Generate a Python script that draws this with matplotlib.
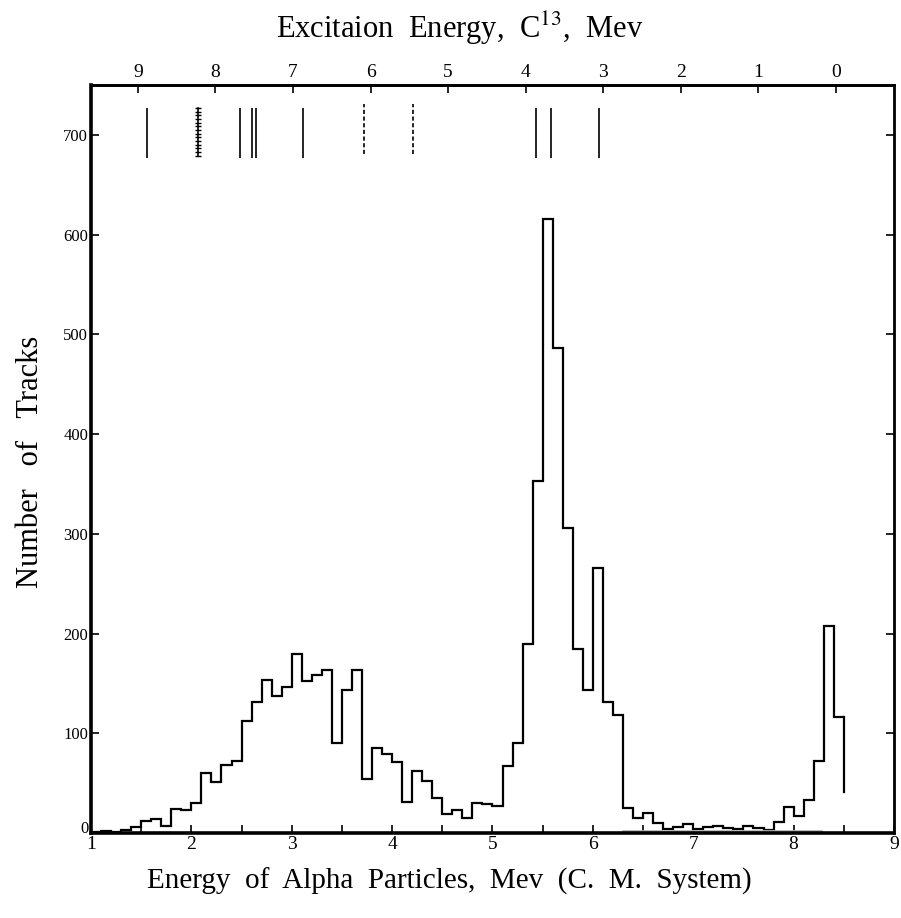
import numpy as np
import matplotlib
matplotlib.use("Agg")
import matplotlib.pyplot as plt

plt.rcParams['font.family'] = ['Liberation Serif', 'DejaVu Serif']
plt.rcParams['mathtext.fontset'] = 'stix'

# histogram, 0.1 Mev bins starting at 1.0 Mev (C.M. alpha energy)
bin_start = 1.0
bin_width = 0.1
counts = [1, 2, 1, 3, 6, 12, 14, 7, 24, 23,
          30, 60, 51, 68, 72, 112, 131, 153, 137, 146,
          179, 152, 158, 163, 90, 143, 163, 54, 85, 79,
          71, 31, 62, 52, 35, 19, 23, 15, 30, 29,
          27, 67, 90, 190, 353, 616, 486, 306, 184, 143,
          266, 131, 118, 25, 15, 20, 10, 4, 6, 9,
          4, 6, 7, 5, 4, 7, 5, 3, 11, 26,
          17, 33, 72, 208, 116]
end_drop = 41          # last vertical stroke stops here
background = (6.3, 8.27, 2)   # faint grey line near the baseline

# C13 levels (excitation energy, Mev) marked at the top
levels_solid = [8.88, 7.68, 7.53, 7.48, 6.87, 3.86, 3.67, 3.05]
levels_broad = [8.22]
levels_dashed = [6.09, 5.45]
level_span = (677, 727)

# alpha energy <-> excitation energy
E0 = 8.42
k = 0.7725
def to_ex(ea):
    return (E0 - ea) / k
def to_alpha(ex):
    return E0 - k * ex

counts = np.array(counts)
edges = bin_start + bin_width * np.arange(len(counts) + 1)

fig = plt.figure(figsize=(9.01, 9.18), dpi=100)
ax = fig.add_axes([91/901, 1 - 833/918, (894-91)/901, (833-85)/918])

ax.stairs(counts, edges, baseline=None, color='black', lw=1.6)
ax.plot([edges[-1], edges[-1]], [counts[-1], end_drop], color='black', lw=1.6)
ax.plot(background[:2], [background[2]] * 2, color='#b5b5b5', lw=2)

ax.vlines(to_alpha(np.array(levels_solid)), *level_span, color='black', lw=1.2)
ax.vlines(to_alpha(np.array(levels_dashed)), level_span[0] + 4, level_span[1] + 4,
          color='black', lw=1.2, linestyles=(0, (2.5, 1.5)))
for lv in levels_broad:
    yy = np.linspace(level_span[0] + 2, level_span[1], 14)
    ax.plot(np.full_like(yy, to_alpha(lv)), yy, color='black', lw=1.2,
            marker='_', ms=4, mew=1.0)

ax.set_xlim(1, 9)
ax.set_ylim(0, 750)
ax.set_xticks(range(1, 10))
ax.set_xticks(np.arange(1.5, 9, 1), minor=True)
ax.set_yticks(range(0, 800, 100))
ax.tick_params(axis='x', which='both', direction='in', length=6, width=1.2,
               labelsize=14, pad=2)
ax.tick_params(axis='y', direction='in', length=6, width=1.2, right=True,
               labelsize=12, pad=2)
for s in ['left', 'bottom']:
    ax.spines[s].set_linewidth(2.6)
for s in ['top', 'right']:
    ax.spines[s].set_linewidth(2.0)
# the "0" sits a little above the axis line in the original
ax.get_yticklabels()[0].set_verticalalignment('baseline')

top = ax.secondary_xaxis('top', functions=(to_ex, to_alpha))
top.set_xticks(range(0, 10))
top.tick_params(direction='in', length=6, width=1.2, labelsize=14, pad=3)
top.spines['top'].set_linewidth(2.0)

fig.text(460/901, 1 - 28/918, 'Excitaion  Energy,  C$^{13}$,  Mev',
         fontsize=22, ha='center', va='center')
fig.text(449/901, 1 - 881/918, 'Energy  of  Alpha  Particles,  Mev  (C.  M.  System)',
         fontsize=21, ha='center', va='center')
fig.text(30/901, 1 - 462/918, 'Number   of   Tracks', fontsize=22,
         rotation=90, ha='center', va='center')

fig.savefig('out.png', dpi=100)
